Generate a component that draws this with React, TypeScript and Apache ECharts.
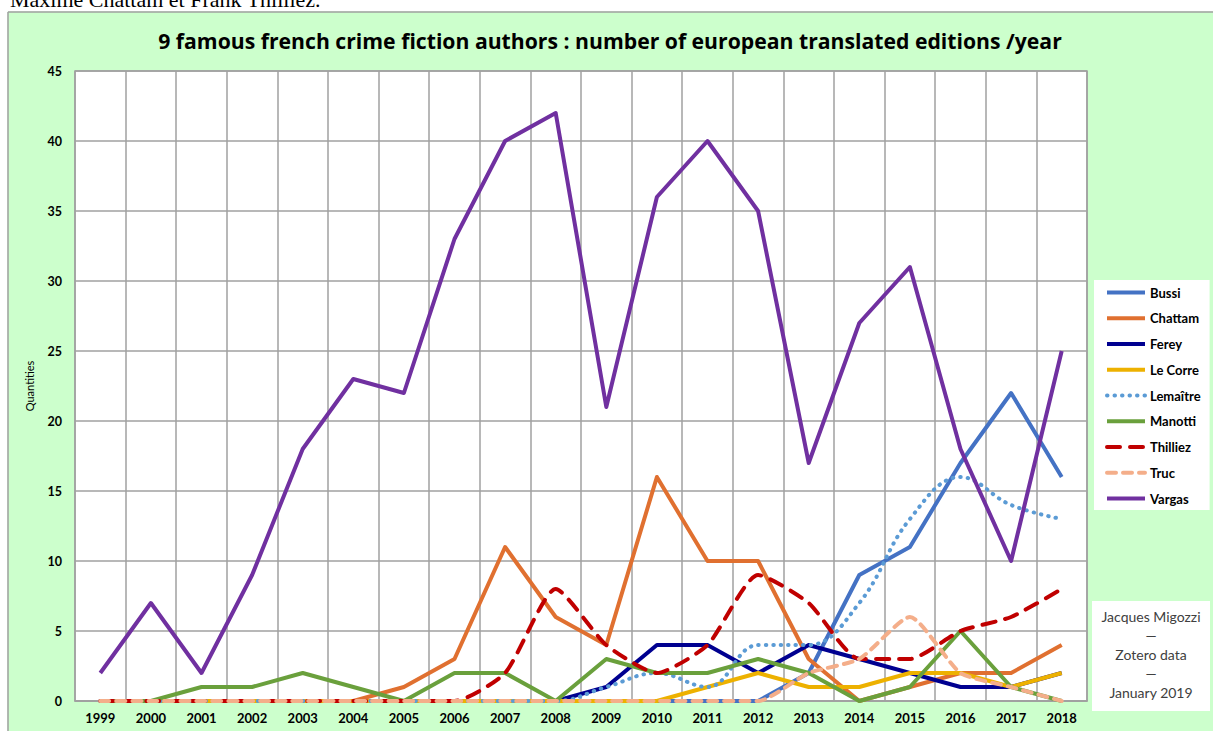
import React, { useEffect, useRef } from 'react';
import * as echarts from 'echarts';

const years = ['1999', '2000', '2001', '2002', '2003', '2004', '2005', '2006', '2007', '2008', '2009', '2010', '2011', '2012', '2013', '2014', '2015', '2016', '2017', '2018'];

const bussi = [0, 0, 0, 0, 0, 0, 0, 0, 0, 0, 0, 0, 0, 0, 2, 9, 11, 17, 22, 16];
const chattam = [0, 0, 0, 0, 0, 0, 1, 3, 11, 6, 4, 16, 10, 10, 3, 0, 1, 2, 2, 4];
const ferey = [0, 0, 0, 0, 0, 0, 0, 0, 0, 0, 1, 4, 4, 2, 4, 3, 2, 1, 1, 2];
const leCorre = [0, 0, 0, 0, 0, 0, 0, 0, 0, 0, 0, 0, 1, 2, 1, 1, 2, 2, 1, 2];
const lemaitre = [0, 0, 0, 0, 0, 0, 0, 0, 0, 0, 1, 2, 1, 4, 4, 7, 13, 16, 14, 13];
const manotti = [0, 0, 1, 1, 2, 1, 0, 2, 2, 0, 3, 2, 2, 3, 2, 0, 1, 5, 1, 0];
const thilliez = [0, 0, 0, 0, 0, 0, 0, 0, 2, 8, 4, 2, 4, 9, 7, 3, 3, 5, 6, 8];
const truc = [0, 0, 0, 0, 0, 0, 0, 0, 0, 0, 0, 0, 0, 0, 2, 3, 6, 2, 1, 0];
const vargas = [2, 7, 2, 9, 18, 23, 22, 33, 40, 42, 21, 36, 40, 35, 17, 27, 31, 18, 10, 25];

const titleText = '9 famous french crime fiction authors : number of european translated editions /year';
const pageText = 'Maxime Chattam et Frank Thilliez.';
const creditText = 'Jacques Migozzi\n—\nZotero data\n—\nJanuary 2019';

const FONT = 'Lato, "Noto Sans", sans-serif';

export default function App() {
  const ref = useRef<HTMLDivElement>(null);

  useEffect(() => {
    document.body.style.margin = '0';
    const chart = echarts.init(ref.current!, null, { renderer: 'svg' });

    const mk = (name: string, data: number[], color: string, extra: any = {}) => ({
      name,
      type: 'line',
      data,
      symbol: 'none',
      showSymbol: false,
      smooth: extra.smooth ?? false,
      lineStyle: {
        color,
        width: 4,
        type: extra.dash ?? 'solid',
        cap: extra.cap ?? 'butt',
        join: 'round',
      },
      itemStyle: { color },
    });

    chart.setOption({
      animation: false,
      backgroundColor: '#CCFFCC',
      textStyle: { fontFamily: FONT },
      grid: {
        left: 75,
        top: 71,
        width: 1012,
        height: 630,
        show: true,
        backgroundColor: '#ffffff',
        borderColor: '#A0A0A0',
        borderWidth: 1.5,
      },
      xAxis: {
        type: 'category',
        data: years,
        boundaryGap: true,
        axisLine: { show: true, lineStyle: { color: '#A0A0A0', width: 1.5 } },
        axisTick: { show: false },
        splitLine: { show: true, lineStyle: { color: '#A0A0A0', width: 1.5 } },
        axisLabel: { color: '#000', fontWeight: 'bold', fontSize: 13, margin: 10, fontFamily: FONT, interval: 0 },
      },
      yAxis: {
        type: 'value',
        min: 0,
        max: 45,
        interval: 5,
        name: 'Quantities',
        nameLocation: 'middle',
        nameGap: 40,
        nameTextStyle: { color: '#000', fontSize: 11, fontFamily: FONT },
        axisLine: { show: false },
        axisTick: { show: false },
        splitLine: { show: true, lineStyle: { color: '#A0A0A0', width: 1.5 } },
        axisLabel: { color: '#000', fontWeight: 'bold', fontSize: 12.5, margin: 13, fontFamily: FONT },
      },
      legend: {
        orient: 'vertical',
        left: 1094,
        top: 280,
        backgroundColor: '#ffffff',
        padding: [6, 9, 5, 11],
        itemWidth: 38,
        itemHeight: 14,
        itemGap: 12.75,
        itemStyle: { opacity: 0 },
        lineStyle: { opacity: 1, width: 4 },
        textStyle: { color: '#000', fontWeight: 'bold', fontSize: 13, fontFamily: FONT },
        data: ['Bussi', 'Chattam', 'Ferey', 'Le Corre', 'Lemaître', 'Manotti', 'Thilliez', 'Truc', 'Vargas'],
      },
      graphic: [
        { type: 'rect', shape: { x: 0, y: 0, width: 1213, height: 11.5 }, style: { fill: '#ffffff' }, silent: true },
        { type: 'rect', shape: { x: 0, y: 0, width: 7.5, height: 731 }, style: { fill: '#ffffff' }, silent: true },
        { type: 'line', shape: { x1: 8, y1: 12, x2: 1213, y2: 12 }, style: { stroke: '#A0A0A0', lineWidth: 1.5 }, silent: true },
        { type: 'line', shape: { x1: 8, y1: 12, x2: 8, y2: 731 }, style: { stroke: '#A0A0A0', lineWidth: 1.5 }, silent: true },
        {
          type: 'text', x: 10, y: -1,
          style: { text: pageText, fill: '#000', font: '22px "Liberation Serif", serif', textAlign: 'left', textVerticalAlign: 'middle' },
          silent: true,
        },
        {
          type: 'text', x: 610, y: 40,
          style: { text: titleText, fill: '#000', font: 'bold 21.2px "Open Sans", sans-serif', textAlign: 'center', textVerticalAlign: 'middle' },
          silent: true,
        },
        { type: 'rect', shape: { x: 1092, y: 601, width: 118, height: 110 }, style: { fill: '#ffffff' }, silent: true },
        {
          type: 'text', x: 1151, y: 654.5,
          style: { text: creditText, fill: '#404040', font: '14px ' + FONT, textAlign: 'center', textVerticalAlign: 'middle', lineHeight: 18.8 },
          silent: true,
        },
      ],
      series: [
        mk('Bussi', bussi, '#4472C4'),
        mk('Chattam', chattam, '#E07030'),
        mk('Ferey', ferey, '#000090'),
        mk('Le Corre', leCorre, '#EDB100'),
        mk('Lemaître', lemaitre, '#5B9BD5', { dash: [0.5, 7], cap: 'round', smooth: 0.4 }),
        mk('Manotti', manotti, '#6AA03C'),
        mk('Thilliez', thilliez, '#C00000', { dash: [13, 10], cap: 'round', smooth: 0.2 }),
        mk('Truc', truc, '#F4AE8A', { dash: [9, 7], cap: 'round', smooth: 0.2 }),
        mk('Vargas', vargas, '#7030A0'),
      ],
    });

    return () => chart.dispose();
  }, []);

  return <div ref={ref} style={{ position: 'absolute', left: 0, top: 0, width: 1213, height: 731 }} />;
}
